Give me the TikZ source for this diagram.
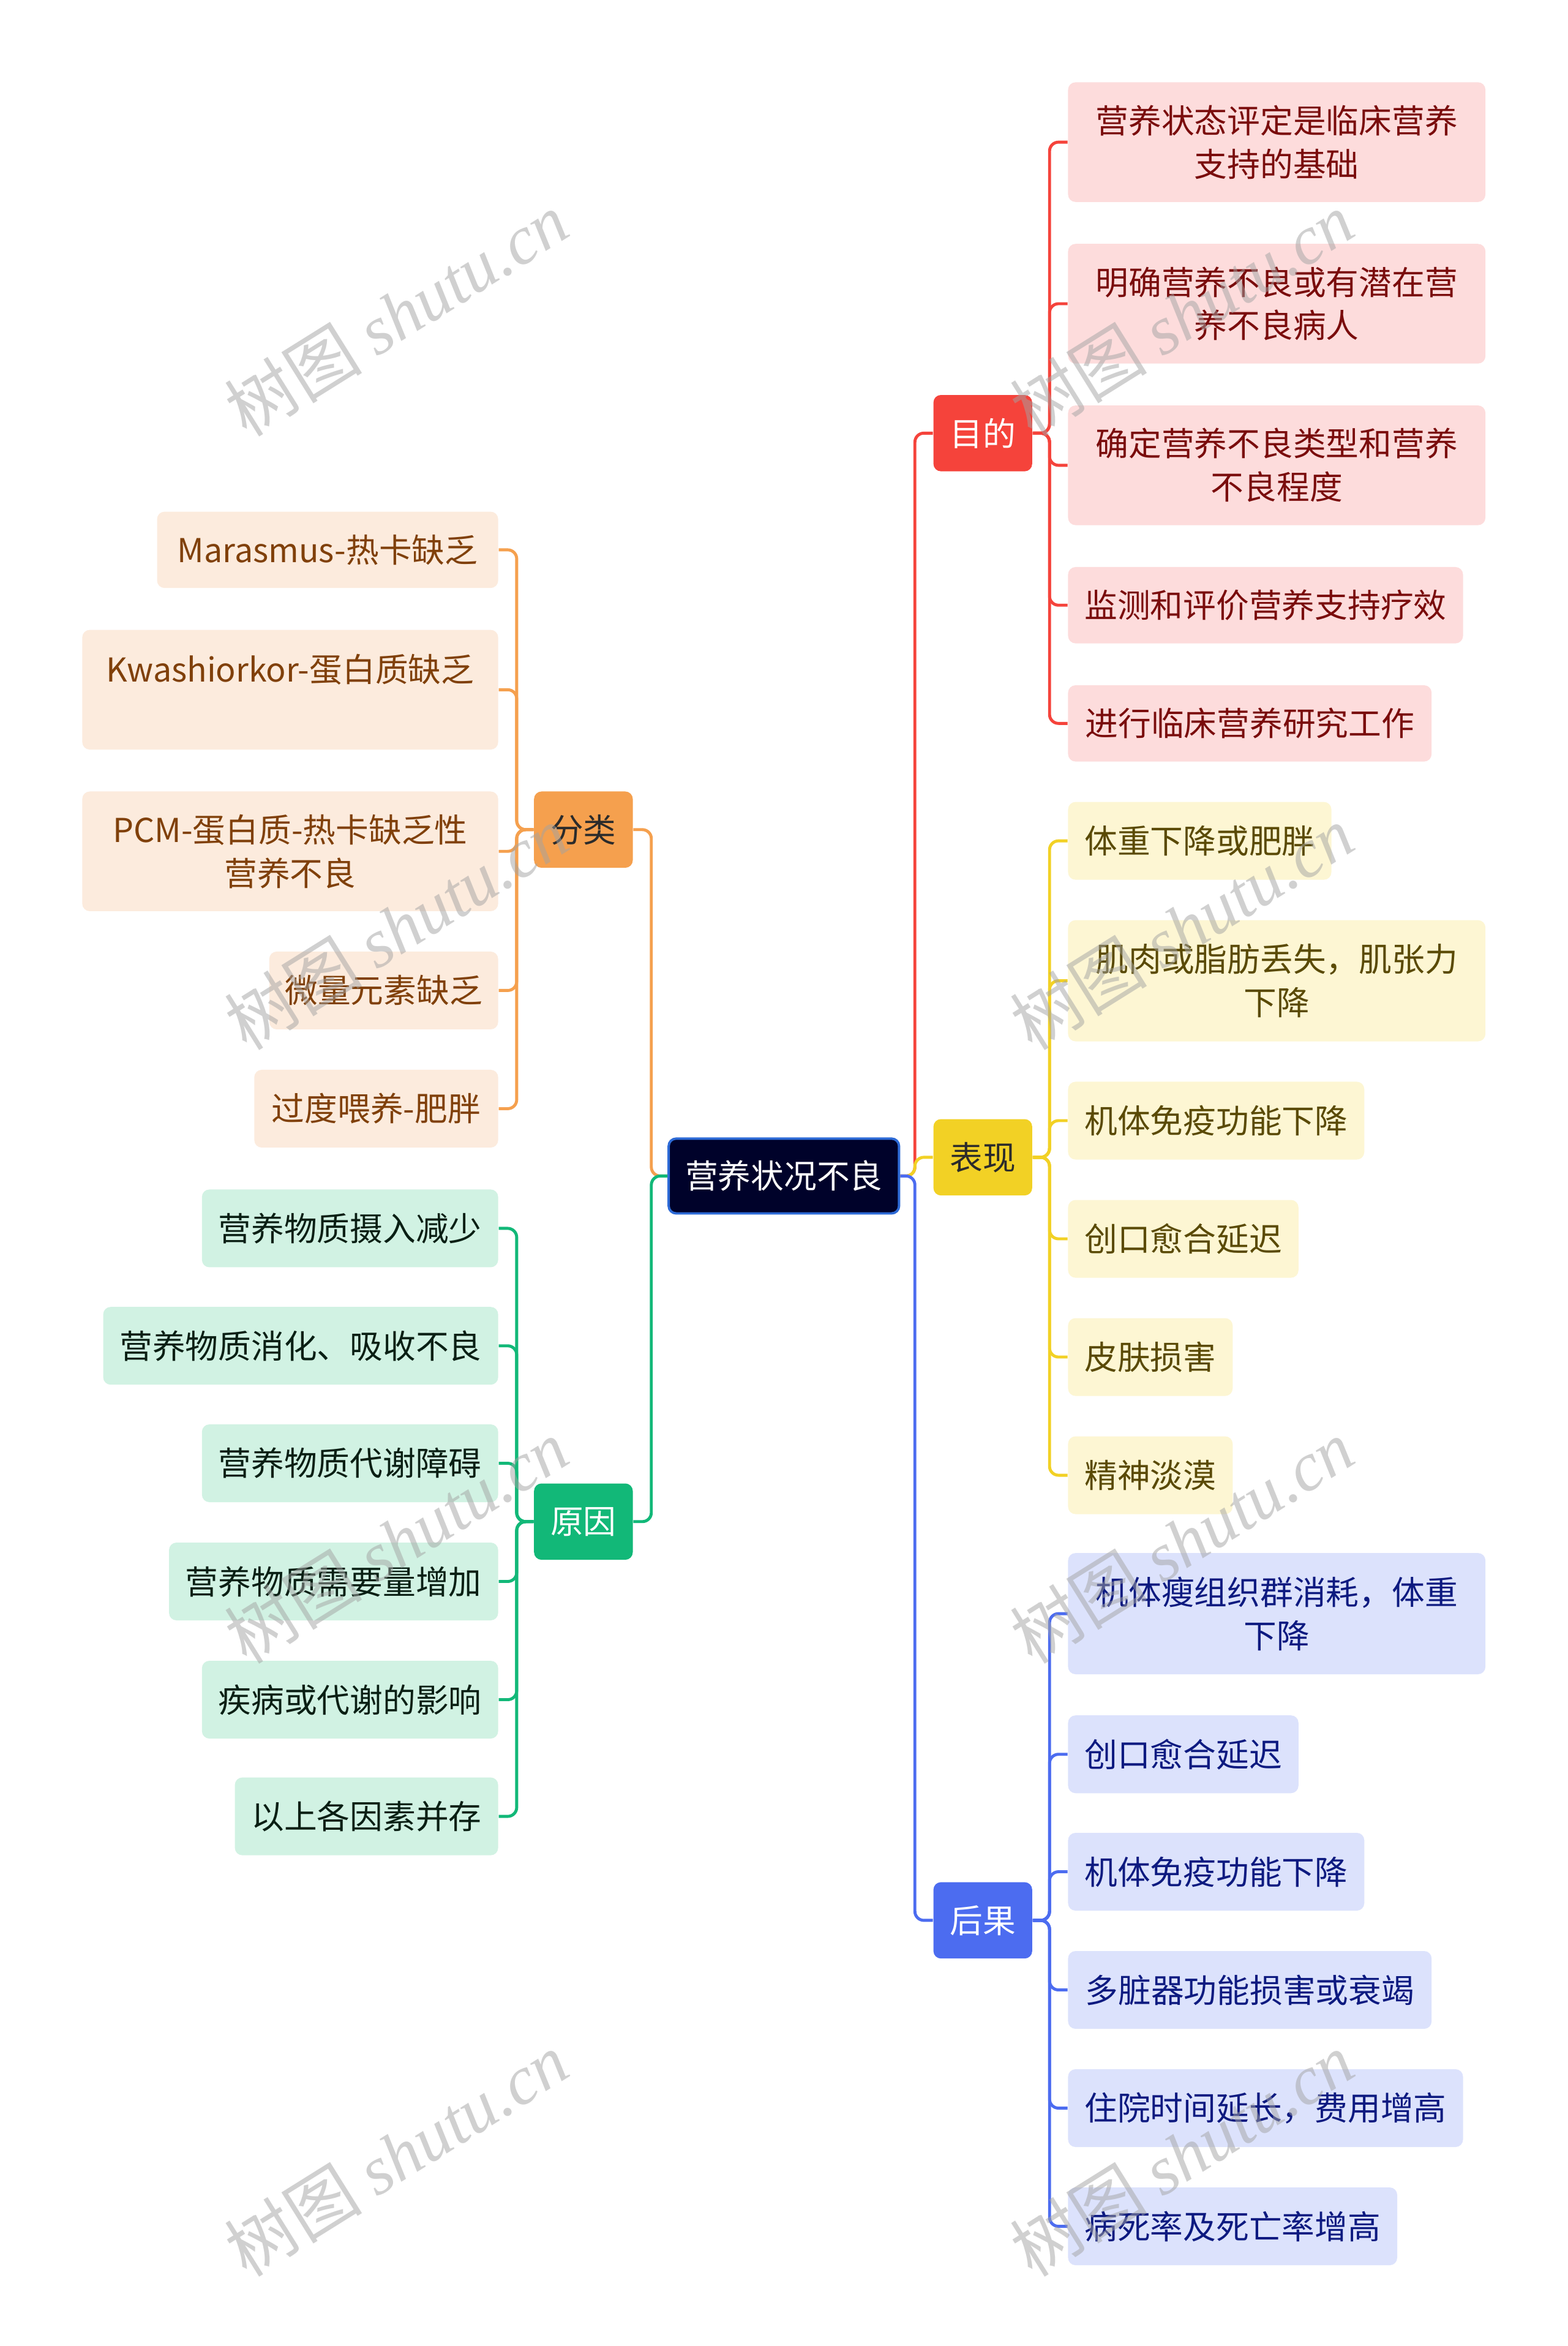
\documentclass[tikz,border=0pt]{standalone}
\usepackage{fontspec}
\setmainfont{Noto Sans CJK SC}
\newfontfamily\wmlatin{Liberation Serif}
\usetikzlibrary{calc}
\definecolor{redm}{HTML}{F5433B}
\definecolor{redf}{HTML}{FDDCDC}
\definecolor{redt}{HTML}{7A0C0C}
\definecolor{orm}{HTML}{F5A04E}
\definecolor{orf}{HTML}{FCEBDD}
\definecolor{ort}{HTML}{80400A}
\definecolor{yem}{HTML}{F2D125}
\definecolor{yef}{HTML}{FDF6D3}
\definecolor{yet}{HTML}{5A4A05}
\definecolor{blm}{HTML}{4C6CF0}
\definecolor{blf}{HTML}{DCE2FC}
\definecolor{blt}{HTML}{0D1A80}
\definecolor{grm}{HTML}{12B878}
\definecolor{grf}{HTML}{D1F2E3}
\definecolor{grt}{HTML}{0A1F14}
\definecolor{rootf}{HTML}{00022A}
\definecolor{rootb}{HTML}{2D6AD6}
\definecolor{maint}{HTML}{2B2B2B}
\begin{document}
\begin{tikzpicture}[x=0.5pt,y=-0.5pt,
  base/.style={rounded corners=2.5pt, inner sep=0pt, align=center, font=\fontsize{11pt}{14.5pt}\selectfont},
  mainbox/.style={base, minimum width=33pt, minimum height=25.5pt},
  rc/.style={base, fill=redf, text=redt},
  oc/.style={base, fill=orf, text=ort},
  yc/.style={base, fill=yef, text=yet},
  bc/.style={base, fill=blf, text=blt},
  gc/.style={base, fill=grf, text=grt},
  link/.style={line width=1pt, rounded corners=3pt},
  wm/.style={text=black!36, text opacity=0.5, rotate=32, font=\fontsize{23pt}{23pt}\selectfont}
]
\useasboundingbox (0,0) rectangle (1048,1568);
\fill[white] (0,0) rectangle (1048,1568);

% root
\node[base, fill=rootf, draw=rootb, line width=0.8pt, text=white, minimum width=77pt, minimum height=25pt] (root) at (524,786) {营养状况不良};

% main branches
\node[mainbox, fill=redm, text=white] (mudi) at (657,289.5) {目的};
\node[mainbox, fill=yem, text=maint] (biaoxian) at (657,773.5) {表现};
\node[mainbox, fill=blm, text=white] (houguo) at (657,1283.5) {后果};
\node[mainbox, fill=orm, text=maint] (fenlei) at (390,554.5) {分类};
\node[mainbox, fill=grm, text=white] (yuanyin) at (390,1017) {原因};

% red children
\node[rc, minimum width=139.5pt, minimum height=40pt] (r1) at (853.5,95) {营养状态评定是临床营养\\支持的基础};
\node[rc, minimum width=139.5pt, minimum height=40pt] (r2) at (853.5,203) {明确营养不良或有潜在营\\养不良病人};
\node[rc, minimum width=139.5pt, minimum height=40pt] (r3) at (853.5,311) {确定营养不良类型和营养\\不良程度};
\node[rc, minimum width=132pt, minimum height=25.5pt] (r4) at (846,404.5) {监测和评价营养支持疗效};
\node[rc, minimum width=121.5pt, minimum height=25.5pt] (r5) at (835.5,483.5) {进行临床营养研究工作};

% yellow children
\node[yc, minimum width=88pt, minimum height=26pt] (y1) at (802,562) {体重下降或肥胖};
\node[yc, minimum width=139.5pt, minimum height=40.5pt] (y2) at (853.5,655.5) {肌肉或脂肪丢失，肌张力\\下降};
\node[yc, minimum width=99pt, minimum height=26pt] (y3) at (813,749) {机体免疫功能下降};
\node[yc, minimum width=77pt, minimum height=26pt] (y4) at (791,828) {创口愈合延迟};
\node[yc, minimum width=55pt, minimum height=26pt] (y5) at (769,907) {皮肤损害};
\node[yc, minimum width=55pt, minimum height=26pt] (y6) at (769,986) {精神淡漠};

% blue children
\node[bc, minimum width=139.5pt, minimum height=40.5pt] (b1) at (853.5,1078.5) {机体瘦组织群消耗，体重\\下降};
\node[bc, minimum width=77pt, minimum height=26pt] (b2) at (791,1172.5) {创口愈合延迟};
\node[bc, minimum width=99pt, minimum height=26pt] (b3) at (813,1251) {机体免疫功能下降};
\node[bc, minimum width=121.5pt, minimum height=26pt] (b4) at (835.5,1330) {多脏器功能损害或衰竭};
\node[bc, minimum width=132pt, minimum height=26pt] (b5) at (846,1409) {住院时间延长，费用增高};
\node[bc, minimum width=110pt, minimum height=26pt] (b6) at (824,1488) {病死率及死亡率增高};

% orange children
\node[oc, minimum width=114pt, minimum height=25.5pt] (o1) at (219,367.5) {Marasmus-热卡缺乏};
\node[oc, minimum width=139pt, minimum height=40pt] (o2) at (194,461) {Kwashiorkor-蛋白质缺乏\\\mbox{}};
\node[oc, minimum width=139pt, minimum height=40pt] (o3) at (194,569) {PCM-蛋白质-热卡缺乏性\\营养不良};
\node[oc, minimum width=76.5pt, minimum height=26pt] (o4) at (256.5,662) {微量元素缺乏};
\node[oc, minimum width=81.5pt, minimum height=26pt] (o5) at (251.5,741) {过度喂养-肥胖};

% green children
\node[gc, minimum width=99pt, minimum height=26pt] (g1) at (234,821) {营养物质摄入减少};
\node[gc, minimum width=132pt, minimum height=26pt] (g2) at (201,899.5) {营养物质消化、吸收不良};
\node[gc, minimum width=99pt, minimum height=26pt] (g3) at (234,978) {营养物质代谢障碍};
\node[gc, minimum width=110pt, minimum height=26pt] (g4) at (223,1057) {营养物质需要量增加};
\node[gc, minimum width=99pt, minimum height=26pt] (g5) at (234,1136) {疾病或代谢的影响};
\node[gc, minimum width=88pt, minimum height=26pt] (g6) at (245,1214) {以上各因素并存};

% connectors root -> main
\draw[link, redm] (root.east) -| ([xshift=-6pt]mudi.west) -- (mudi.west);
\draw[link, yem] (root.east) -| ([xshift=-6pt]biaoxian.west) -- (biaoxian.west);
\draw[link, blm] (root.east) -| ([xshift=-6pt]houguo.west) -- (houguo.west);
\draw[link, orm] (root.west) -| ([xshift=6pt]fenlei.east) -- (fenlei.east);
\draw[link, grm] (root.west) -| ([xshift=6pt]yuanyin.east) -- (yuanyin.east);

% connectors main -> children
\foreach \c in {r1,r2,r3,r4,r5}
  \draw[link, redm] (mudi.east) -| ([xshift=-6pt]\c.west) -- (\c.west);
\foreach \c in {y1,y2,y3,y4,y5,y6}
  \draw[link, yem] (biaoxian.east) -| ([xshift=-6pt]\c.west) -- (\c.west);
\foreach \c in {b1,b2,b3,b4,b5,b6}
  \draw[link, blm] (houguo.east) -| ([xshift=-6pt]\c.west) -- (\c.west);
\foreach \c in {o1,o2,o3,o4,o5}
  \draw[link, orm] (fenlei.west) -| ([xshift=6pt]\c.east) -- (\c.east);
\foreach \c in {g1,g2,g3,g4,g5,g6}
  \draw[link, grm] (yuanyin.west) -| ([xshift=6pt]\c.east) -- (\c.east);

% watermarks
\foreach \wy [count=\i] in {210,620,1030,1440}{
  \node[wm] (wl\i) at (265,\wy) {树图 {\wmlatin\itshape shutu.cn}};
  \node[wm] (wr\i) at (790,\wy) {树图 {\wmlatin\itshape shutu.cn}};
}
\end{tikzpicture}
\end{document}
